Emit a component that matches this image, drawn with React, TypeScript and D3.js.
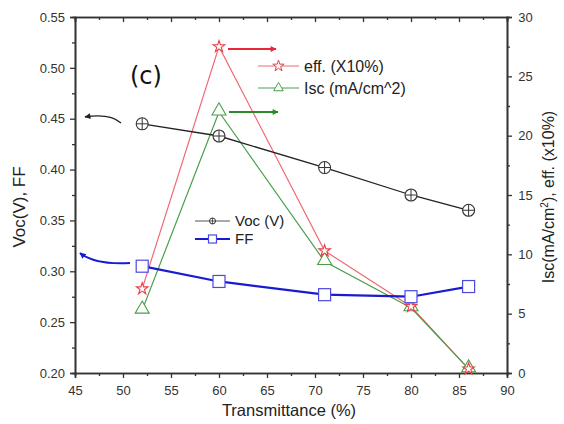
import * as React from "react";
import * as d3 from "d3";

const transmittance = [52, 60, 71, 80, 86];
const voc = [0.445, 0.433, 0.402, 0.375, 0.36];
const ff = [0.305, 0.29, 0.277, 0.275, 0.285];
const eff = [7.1, 27.5, 10.3, 5.6, 0.35];
const isc = [5.3, 22.0, 9.4, 5.5, 0.35];

const xTicks = [45, 50, 55, 60, 65, 70, 75, 80, 85, 90];
const leftTicks = [0.2, 0.25, 0.3, 0.35, 0.4, 0.45, 0.5, 0.55];
const rightTicks = [0, 5, 10, 15, 20, 25, 30];

const W = 564;
const H = 424;
const margin = { top: 17, right: 57, bottom: 51, left: 75 };

function drawChart(svgRef: React.RefObject<SVGSVGElement | null>) {
  const svg = d3.select(svgRef.current);
  svg.selectAll("*").remove();

  const iw = W - margin.left - margin.right;
  const ih = H - margin.top - margin.bottom;

  const x = d3.scaleLinear().domain([45, 90]).range([0, iw]);
  const yL = d3.scaleLinear().domain([0.2, 0.55]).range([ih, 0]);
  const yR = d3.scaleLinear().domain([0, 30]).range([ih, 0]);

  const defs = svg.append("defs");
  const mk = (id: string, color: string) =>
    defs
      .append("marker")
      .attr("id", id)
      .attr("viewBox", "0 0 10 10")
      .attr("refX", 9)
      .attr("refY", 5)
      .attr("markerWidth", 7)
      .attr("markerHeight", 6)
      .attr("orient", "auto")
      .attr("markerUnits", "userSpaceOnUse")
      .append("path")
      .attr("d", "M0,0 L10,5 L0,10 z")
      .attr("fill", color);
  mk("arRed", "#e8283a");
  mk("arGreen", "#2a8a2a");
  mk("arBlack", "#222");
  mk("arBlue", "#1a1ad0");

  const g = svg.append("g").attr("transform", `translate(${margin.left},${margin.top})`);
  const axisColor = "#333";
  const font = "'Liberation Sans', Arial, sans-serif";

  // bottom axis
  const bottom = g
    .append("g")
    .attr("transform", `translate(0,${ih})`)
    .call(d3.axisBottom(x).tickValues(xTicks).tickSize(5).tickFormat(d3.format("d")));
  bottom
    .append("g")
    .call(
      d3.axisBottom(x).tickValues(d3.range(47.5, 90, 5)).tickSize(3).tickFormat(() => "")
    );
  // top axis
  const top = g.append("g");
  top.call(d3.axisTop(x).tickValues(xTicks).tickSize(-5).tickFormat(() => ""));
  top.append("g").call(
    d3.axisTop(x).tickValues(d3.range(47.5, 90, 5)).tickSize(-3).tickFormat(() => "")
  );
  // left axis
  const left = g.append("g").call(
    d3.axisLeft(yL).tickValues(leftTicks).tickSize(5).tickFormat(d3.format(".2f"))
  );
  left.append("g").call(
    d3.axisLeft(yL).tickValues(d3.range(0.225, 0.55, 0.05)).tickSize(3).tickFormat(() => "")
  );
  // right axis
  const right = g
    .append("g")
    .attr("transform", `translate(${iw},0)`)
    .call(d3.axisRight(yR).tickValues(rightTicks).tickSize(5).tickFormat(d3.format("d")));
  right.append("g").call(
    d3.axisRight(yR).tickValues(d3.range(2.5, 30, 5)).tickSize(3).tickFormat(() => "")
  );

  g.selectAll(".domain").attr("stroke", axisColor).attr("stroke-width", 1.6);
  g.selectAll(".tick line").attr("stroke", axisColor).attr("stroke-width", 1.3);
  g.selectAll(".tick text")
    .attr("fill", "#333")
    .attr("font-family", font)
    .attr("font-size", 13);
  bottom.selectAll(".tick text").attr("dy", "1.1em");
  left.selectAll(".tick text").attr("dx", "-0.15em");
  right.selectAll(".tick text").attr("dx", "0.25em");

  // lines
  const lineL = (vals: number[]) =>
    d3
      .line<number>()
      .x((_, i) => x(transmittance[i]))
      .y((d) => yL(d))(vals);
  const lineR = (vals: number[]) =>
    d3
      .line<number>()
      .x((_, i) => x(transmittance[i]))
      .y((d) => yR(d))(vals);

  const star = d3.symbol(d3.symbolStar, 42)();
  const tri = d3.symbol(d3.symbolTriangle, 85)();

  g.append("path").attr("d", lineR(eff)).attr("fill", "none").attr("stroke", "#f06a72").attr("stroke-width", 1.2);
  g.append("path").attr("d", lineR(isc)).attr("fill", "none").attr("stroke", "#4a9e4a").attr("stroke-width", 1.2);
  g.append("path").attr("d", lineL(voc)).attr("fill", "none").attr("stroke", "#222").attr("stroke-width", 1.3);
  g.append("path").attr("d", lineL(ff)).attr("fill", "none").attr("stroke", "#1a1ad0").attr("stroke-width", 2.2);

  // markers
  g.selectAll(".isc")
    .data(isc)
    .enter()
    .append("path")
    .attr("d", tri)
    .attr("transform", (d, i) => `translate(${x(transmittance[i])},${yR(d) - 1})`)
    .attr("fill", "white")
    .attr("stroke", "#4a9e4a")
    .attr("stroke-width", 1.1);
  g.selectAll(".eff")
    .data(eff)
    .enter()
    .append("path")
    .attr("d", star)
    .attr("transform", (d, i) => `translate(${x(transmittance[i])},${yR(d)})`)
    .attr("fill", "white")
    .attr("stroke", "#e8404a")
    .attr("stroke-width", 1.1);
  const vg = g
    .selectAll(".voc")
    .data(voc)
    .enter()
    .append("g")
    .attr("transform", (d, i) => `translate(${x(transmittance[i])},${yL(d)})`);
  vg.append("circle").attr("r", 6).attr("fill", "white").attr("stroke", "#333").attr("stroke-width", 1.1);
  vg.append("path").attr("d", "M-6,0H6M0,-6V6").attr("stroke", "#333").attr("stroke-width", 1);
  g.selectAll(".ff")
    .data(ff)
    .enter()
    .append("rect")
    .attr("x", (d, i) => x(transmittance[i]) - 6)
    .attr("y", (d) => yL(d) - 6)
    .attr("width", 12)
    .attr("height", 12)
    .attr("fill", "white")
    .attr("stroke", "#4a4ae0")
    .attr("stroke-width", 1.2);

  // arrows (screen coordinates)
  svg.append("line").attr("x1", 228).attr("y1", 49).attr("x2", 276).attr("y2", 49)
    .attr("stroke", "#e8283a").attr("stroke-width", 2).attr("marker-end", "url(#arRed)");
  svg.append("line").attr("x1", 229).attr("y1", 112).attr("x2", 278).attr("y2", 112)
    .attr("stroke", "#2a8a2a").attr("stroke-width", 2).attr("marker-end", "url(#arGreen)");
  svg.append("path").attr("d", "M121,123 Q110,113 85,117").attr("fill", "none")
    .attr("stroke", "#222").attr("stroke-width", 1.3).attr("marker-end", "url(#arBlack)");
  svg.append("path").attr("d", "M130,263 Q95,265 80,253").attr("fill", "none")
    .attr("stroke", "#1a1ad0").attr("stroke-width", 2).attr("marker-end", "url(#arBlue)");

  // legends
  const leg = (y: number, x0: number, len: number, color: string, w: number, label: string, fs: number, sym: (s: any) => void) => {
    svg.append("line").attr("x1", x0).attr("x2", x0 + len).attr("y1", y).attr("y2", y)
      .attr("stroke", color).attr("stroke-width", w);
    sym(svg.append("g").attr("transform", `translate(${x0 + len / 2},${y})`));
    svg.append("text").attr("x", x0 + len + 5).attr("y", y).attr("dy", "0.35em")
      .attr("font-family", font).attr("font-size", fs).attr("fill", "#222").text(label);
  };
  leg(66, 258, 41, "#f06a72", 1.2, "eff. (X10%)", 16, (s) =>
    s.append("path").attr("d", d3.symbol(d3.symbolStar, 40)()).attr("fill", "white").attr("stroke", "#e8404a"));
  leg(88, 258, 41, "#4a9e4a", 1.2, "Isc (mA/cm^2)", 16, (s) =>
    s.append("path").attr("d", d3.symbol(d3.symbolTriangle, 40)()).attr("fill", "white").attr("stroke", "#4a9e4a"));
  leg(221, 195, 35, "#555", 1.2, "Voc (V)", 15, (s) => {
    s.append("circle").attr("r", 3).attr("fill", "white").attr("stroke", "#333");
    s.append("path").attr("d", "M-3,0H3M0,-3V3").attr("stroke", "#333").attr("stroke-width", 0.8);
  });
  leg(239, 195, 35, "#1a1ad0", 2, "FF", 15, (s) =>
    s.append("rect").attr("x", -4).attr("y", -4).attr("width", 8).attr("height", 8)
      .attr("fill", "white").attr("stroke", "#4a4ae0").attr("stroke-width", 1.2));

  // labels
  svg.append("text").attr("x", 130).attr("y", 84).attr("font-family", "'DejaVu Sans', sans-serif")
    .attr("font-size", 24).attr("fill", "#111").text("(c)");
  svg.append("text").attr("x", margin.left + iw / 2 - 2).attr("y", 416).attr("text-anchor", "middle")
    .attr("font-family", font).attr("font-size", 16.5).attr("fill", "#222").text("Transmittance (%)");
  svg.append("text").attr("transform", `translate(25,${margin.top + ih / 2 + 12}) rotate(-90)`)
    .attr("text-anchor", "middle").attr("font-family", font).attr("font-size", 17).attr("fill", "#222")
    .text("Voc(V), FF");
  const rl = svg.append("text").attr("transform", `translate(554,${margin.top + ih / 2 + 2}) rotate(-90)`)
    .attr("text-anchor", "middle").attr("font-family", font).attr("font-size", 16).attr("fill", "#222");
  rl.append("tspan").text("Isc(mA/cm");
  rl.append("tspan").attr("dy", -6).attr("font-size", 10).text("2");
  rl.append("tspan").attr("dy", 6).text("), eff. (x10%)");
}

export default function App() {
  const svgRef = React.useRef<SVGSVGElement>(null);
  React.useEffect(() => {
    drawChart(svgRef);
  }, []);
  return (
    <div style={{ position: "absolute", left: 0, top: 0, background: "white" }}>
      <svg ref={svgRef} width={W} height={H} style={{ display: "block" }} />
    </div>
  );
}
